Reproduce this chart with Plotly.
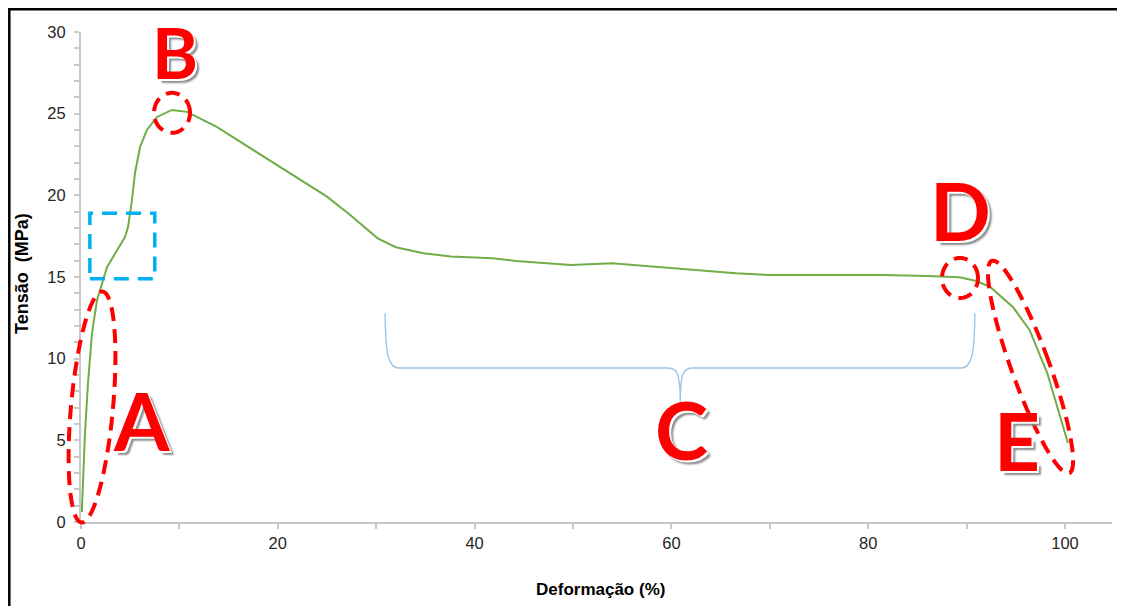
import math
import plotly.graph_objects as go

# ---------------- data ----------------
strain = [0.10, 0.10, 0.41, 0.71, 1.12, 1.63, 2.64, 3.46, 4.47, 4.78, 5.18, 5.49, 6.00, 6.70,
          7.72, 9.25, 10.77, 13.8, 16.16, 17.2, 20.8, 25.0, 27.36, 30.15, 32.0, 34.8, 37.6,
          41.8, 44.2, 49.8, 53.95, 60.0, 66.55, 69.8, 76.8, 81.5, 86.1, 89.3, 91.0, 92.4,
          94.7, 96.4, 98.2, 100.3]
stress = [0.61, 0.90, 5.45, 8.51, 11.57, 13.60, 15.60, 16.47, 17.45, 18.06, 19.72, 21.37, 22.96,
          24.00, 24.80, 25.23, 25.11, 24.19, 23.29, 22.90, 21.55, 19.92, 18.80, 17.37, 16.82,
          16.45, 16.25, 16.15, 15.98, 15.74, 15.84, 15.54, 15.23, 15.13, 15.13, 15.13, 15.06,
          14.98, 14.75, 14.39, 13.17, 11.76, 9.12, 4.84]

y_ticks = [0, 5, 10, 15, 20, 25, 30]
x_ticks = [0, 20, 40, 60, 80, 100]
x_title = "Deformação (%)"
y_title = "Tensão  (MPa)"
letters = ["A", "B", "C", "D", "E"]

# ---------------- layout geometry ----------------
OFF = 8  # page body margin in the browser
W, H = 1125 - OFF, 606 - OFF
ML, MR, MT, MB = 81 - OFF, 13, 32 - OFF, 84
PW, PH = W - ML - MR, H - MT - MB
XR = [0, 104.78]
YR = [0, 30]


def to_px(x, y):
    """data -> figure pixel"""
    px = ML + (x - XR[0]) / (XR[1] - XR[0]) * PW
    py = MT + PH - (y - YR[0]) / (YR[1] - YR[0]) * PH
    return px, py


def px_to_paper(px, py):
    """figure pixel -> paper"""
    return (px - ML) / PW, (MT + PH - py) / PH


def win_to_paper(px, py):
    return px_to_paper(px - OFF, py - OFF)


def ellipse_path(cx, cy, a_px, b_px, tilt_deg, n=90):
    cxp, cyp = to_px(cx, cy)
    th = math.radians(tilt_deg)
    parts = []
    for i in range(n + 1):
        t = 2 * math.pi * i / n
        px = cxp + a_px * math.sin(t) * math.sin(th) + b_px * math.cos(t) * math.cos(th)
        py = cyp - a_px * math.sin(t) * math.cos(th) + b_px * math.cos(t) * math.sin(th)
        u, v = px_to_paper(px, py)
        parts.append(("M" if i == 0 else "L") + f"{u:.5f},{v:.5f}")
    return " ".join(parts) + " Z"


fig = go.Figure()
fig.add_trace(go.Scatter(x=strain, y=stress, mode="lines",
                         line=dict(color="#70ad47", width=2), hoverinfo="skip",
                         showlegend=False))

tick_font = dict(family="Liberation Sans, Arial", size=16.5, color="#262626")
fig.update_xaxes(range=XR, tickvals=x_ticks, showgrid=False, zeroline=False,
                 showline=True, linecolor="#c8c8c8", linewidth=2,
                 ticks="outside", ticklen=5, tickwidth=2, tickcolor="#c8c8c8",
                 minor=dict(dtick=10, ticks="outside", ticklen=5, tickwidth=1.5,
                            tickcolor="#c8c8c8", showgrid=False),
                 tickfont=tick_font, fixedrange=True)
fig.update_yaxes(range=YR, tickvals=y_ticks, showgrid=False, zeroline=False,
                 showline=True, linecolor="#c8c8c8", linewidth=2,
                 ticks="outside", ticklen=5, tickwidth=1.5, tickcolor="#c8c8c8",
                 minor=dict(dtick=1, ticks="outside", ticklen=5, tickwidth=1.5,
                            tickcolor="#c8c8c8", showgrid=False),
                 tickfont=tick_font, ticklabelstandoff=5, fixedrange=True)

shapes = []
# outer frame (left and top edges visible)
fx0, fy0 = px_to_paper(1.3, H + 20)
fx1, fy1 = px_to_paper(W + 20, 1.3)
shapes.append(dict(type="rect", xref="paper", yref="paper", x0=fx0, y0=fy0, x1=fx1, y1=fy1,
                   line=dict(color="black", width=2.5), layer="below"))

red = dict(color="#ff0000", width=4, dash="14px,8px")
# ellipses: (center x, center y in data, semi-major px, semi-minor px, tilt)
ellipses = [(1.12, 7.04, 116, 21, 5.2),
            (9.25, 25.05, 20, 18, 0),
            (89.33, 14.94, 20, 18, 0),
            (96.5, 9.49, 113, 19, -20)]
for cx, cy, a, b, t in ellipses:
    shapes.append(dict(type="path", xref="paper", yref="paper",
                       path=ellipse_path(cx, cy, a, b, t), line=red))

# blue dashed box
shapes.append(dict(type="rect", xref="x", yref="y", x0=0.9, x1=7.5, y0=14.9, y1=18.9,
                   line=dict(color="#00b0f0", width=3.5, dash="15px,9px")))

# brace for region C
bl, bc, br = 30.9, 60.9, 90.85
ytop, ymid, ytip = 12.8, 9.43, 7.16
brace = (f"M {bl},{ytop} C {bl+0.05},{ymid+1.2} {bl+0.2},{ymid} {bl+1.4},{ymid} "
         f"L {bc-1.2},{ymid} C {bc-0.3},{ymid} {bc},{ymid-0.3} {bc},{ytip} "
         f"C {bc},{ymid-0.3} {bc+0.3},{ymid} {bc+1.2},{ymid} "
         f"L {br-1.4},{ymid} C {br-0.2},{ymid} {br-0.05},{ymid+1.2} {br},{ytop}")
shapes.append(dict(type="path", xref="x", yref="y", path=brace,
                   line=dict(color="#9dc3e6", width=1.3)))

annotations = []
letter_pos = [(6.1, 6.25), (9.55, 28.8), (61.0, 5.7), (89.4, 19.1), (95.1, 5.0)]
letter_size = [80, 70, 80, 80, 80]
for L, (lx, ly), sz in zip(letters, letter_pos, letter_size):
    annotations.append(dict(x=lx, y=ly, xref="x", yref="y", text=L, showarrow=False,
                            xanchor="center", yanchor="middle",
                            font=dict(family="Lato, Open Sans, Noto Sans", size=sz,
                                      color="#ff0000", weight="bold",
                                      shadow="2px 2px 0px #ffffff, 4px 4px 2px #8c8c8c")))

title_font = dict(family="Liberation Sans, Arial", size=17, color="black", weight="bold")
tx, ty = win_to_paper(600, 589)
annotations.append(dict(x=tx, y=ty, xref="paper", yref="paper", text=x_title,
                        showarrow=False, xanchor="center", yanchor="middle", font=title_font))
tx, ty = win_to_paper(22, 274)
annotations.append(dict(x=tx, y=ty, xref="paper", yref="paper", text=y_title,
                        showarrow=False, xanchor="center", yanchor="middle", textangle=-90,
                        font=dict(title_font, size=18)))

fig.update_layout(width=W, height=H, margin=dict(l=ML, r=MR, t=MT, b=MB, autoexpand=False),
                  paper_bgcolor="white", plot_bgcolor="white", shapes=shapes,
                  annotations=annotations, showlegend=False)

fig.write_html("out.html", config={"displayModeBar": False})
